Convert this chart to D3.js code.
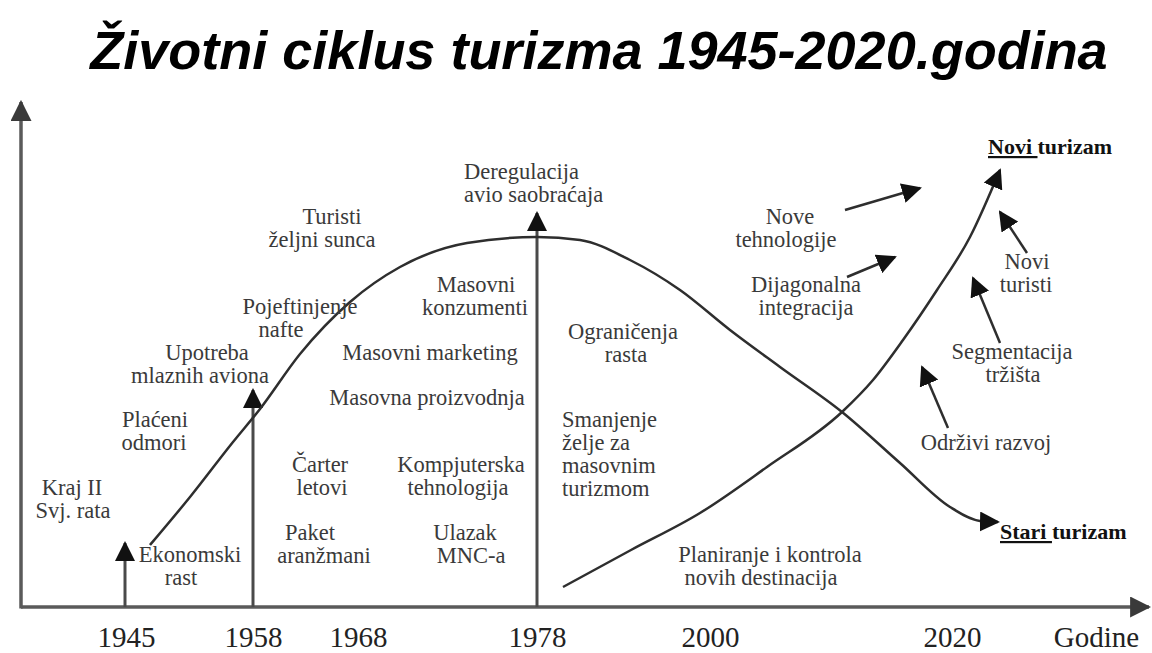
<!DOCTYPE html>
<html>
<head>
<meta charset="utf-8">
<script src="https://cdn.jsdelivr.net/npm/d3@7"></script>
<style>
  body { margin: 0; background: #fff; }
  svg text { font-family: "Liberation Serif", "Times New Roman", serif; }
</style>
</head>
<body>
<div id="chart"></div>
<script>
// Diagram data, in diagram units (x along the time axis, y = level of tourism)
var tickPos = [10.5, 23.2, 33.7, 51.6, 68.9, 93.1, 107.5];
var tickLabels = ["1945", "1958", "1968", "1978", "2000", "2020", "Godine"];

// events marked with vertical arrows on the time axis
var eventPos = [10.4, 23.2, 51.6];
var eventHeight = [6.4, 21.7, 39.4];

// old tourism (rise and fall) and new tourism (rise)
var oldTourism = [
  [12.9, 6.2], [16.9, 11.0], [21.2, 16.5], [23.9, 19.8], [27.9, 25.3],
  [32.9, 30.5], [37.9, 34.0], [44.6, 36.4], [51.6, 37.0], [55.9, 36.7],
  [60.9, 34.7], [65.9, 31.7], [70.9, 27.7], [75.9, 24.0], [82.1, 19.5],
  [87.9, 14.4], [92.9, 10.0], [95.9, 8.6], [97.7, 8.5]
];
var newTourism = [
  [54.2, 2.0], [61.0, 5.7], [67.9, 9.4], [74.6, 14.0], [82.1, 19.5],
  [85.2, 22.7], [88.2, 26.7], [91.6, 31.7], [94.9, 37.0], [97.9, 43.7]
];

// small arrows: [fromX, fromY, toX, toY]
var pointers = [
  [82.4, 39.7, 89.9, 41.9],
  [82.6, 33.0, 87.4, 35.0],
  [100.6, 35.4, 97.9, 39.5],
  [97.9, 26.4, 95.2, 32.9],
  [92.7, 17.9, 90.1, 24.0]
];

// annotations: [x of each line, y of first line, lines, anchor]
var notes = [
  [[5.1, 5.2], 11.2, ["Kraj II", "Svj. rata"], "middle"],
  [[13.4, 13.3], 18.0, ["Plaćeni", "odmori"], "middle"],
  [[18.6, 17.9], 24.7, ["Upotreba", "mlaznih aviona"], "middle"],
  [[27.9, 26.0], 29.3, ["Pojeftinjenje", "nafte"], "middle"],
  [[31.1, 30.1], 38.3, ["Turisti", "željni sunca"], "middle"],
  [[45.5, 45.4], 31.5, ["Masovni", "konzumenti"], "middle"],
  [[40.9], 24.7, ["Masovni marketing"], "middle"],
  [[40.6], 20.2, ["Masovna proizvodnja"], "middle"],
  [[29.9, 30.1], 13.5, ["Čarter", "letovi"], "middle"],
  [[44.0, 43.7], 13.5, ["Kompjuterska", "tehnologija"], "middle"],
  [[28.9, 30.3], 6.7, ["Paket", "aranžmani"], "middle"],
  [[44.4, 45.0], 6.7, ["Ulazak", "MNC-a"], "middle"],
  [[16.9, 16.0], 4.5, ["Ekonomski", "rast"], "middle"],
  [[44.3, 44.3], 42.8, ["Deregulacija", "avio saobraćaja"], "start"],
  [[60.2, 60.5], 26.8, ["Ograničenja", "rasta"], "middle"],
  [[54.1, 54.1, 54.1, 54.1], 18.0, ["Smanjenje", "želje za", "masovnim", "turizmom"], "start"],
  [[74.9, 74.0], 4.5, ["Planiranje i kontrola", "novih destinacija"], "middle"],
  [[76.9, 76.5], 38.3, ["Nove", "tehnologije"], "middle"],
  [[78.5, 78.5], 31.5, ["Dijagonalna", "integracija"], "middle"],
  [[100.6, 100.5], 33.8, ["Novi", "turisti"], "middle"],
  [[99.1, 99.2], 24.8, ["Segmentacija", "tržišta"], "middle"],
  [[96.5], 15.7, ["Održivi razvoj"], "middle"]
];
var lineStep = 2.3;

// end labels: [x, y, underlined word, rest]
var endLabels = [
  [96.7, 45.3, "Novi", "turizam"],
  [97.9, 6.8, "Stari", "turizam"]
];

var svgWidth = 1152;
var svgHeight = 653;

var svg = d3.select("#chart")
  .append("svg")
  .attr("width", svgWidth)
  .attr("height", svgHeight);

var x = d3.scaleLinear().domain([0, 113]).range([21, 1151]);
var y = d3.scaleLinear().domain([0, 50.7]).range([607, 100]);

// arrow heads
var defs = svg.append("defs");
function addHead(id, color, size) {
  defs.append("marker")
    .attr("id", id)
    .attr("viewBox", "0 0 10 10")
    .attr("refX", 9)
    .attr("refY", 5)
    .attr("markerUnits", "userSpaceOnUse")
    .attr("markerWidth", size)
    .attr("markerHeight", size)
    .attr("orient", "auto")
    .append("path")
    .attr("d", "M0,0L10,5L0,10Z")
    .attr("fill", color);
}
addHead("headAxis", "#3a3a3a", 21);
addHead("head", "#111", 20);

// title
svg.append("text")
  .attr("x", 599)
  .attr("y", 69)
  .attr("text-anchor", "middle")
  .style("font-family", "'Liberation Sans', Arial, sans-serif")
  .style("font-weight", "bold")
  .style("font-style", "italic")
  .style("font-size", "54px")
  .attr("fill", "#000")
  .text("Životni ciklus turizma 1945-2020.godina");

// axes lines
svg.append("line")
  .attr("x1", x(0)).attr("y1", y(0))
  .attr("x2", x(113) - 2).attr("y2", y(0))
  .attr("stroke", "#5a5a5a")
  .attr("stroke-width", 3.5)
  .attr("marker-end", "url(#headAxis)");

svg.append("line")
  .attr("x1", x(0)).attr("y1", y(0) + 1.5)
  .attr("x2", x(0)).attr("y2", y(50.7) + 2)
  .attr("stroke", "#5a5a5a")
  .attr("stroke-width", 3.5)
  .attr("marker-end", "url(#headAxis)");

// tick labels through a bottom axis
var bottomAxis = d3.axisBottom(x)
  .tickValues(tickPos)
  .tickFormat((d, i) => tickLabels[i])
  .tickSize(0)
  .tickPadding(19);

var xAxis = svg.append("g")
  .attr("transform", `translate(0, ${y(0)})`)
  .call(bottomAxis);
xAxis.select(".domain").remove();
xAxis.selectAll("text")
  .style("font-family", "'Liberation Serif', 'Times New Roman', serif")
  .style("font-size", "29px")
  .attr("fill", "#222");

// event arrows
svg.selectAll(".event")
  .data(eventPos)
  .enter()
  .append("line")
  .attr("class", "event")
  .attr("x1", d => x(d))
  .attr("y1", y(0))
  .attr("x2", d => x(d))
  .attr("y2", (d, i) => y(eventHeight[i]))
  .attr("stroke", "#4a4a4a")
  .attr("stroke-width", 3)
  .attr("marker-end", "url(#head)");

// curves
var line = d3.line()
  .x(d => x(d[0]))
  .y(d => y(d[1]))
  .curve(d3.curveMonotoneX);

svg.append("path")
  .datum(oldTourism)
  .attr("d", line)
  .attr("fill", "none")
  .attr("stroke", "#2e2e2e")
  .attr("stroke-width", 2.5)
  .attr("marker-end", "url(#head)");

svg.append("path")
  .datum(newTourism)
  .attr("d", line)
  .attr("fill", "none")
  .attr("stroke", "#2e2e2e")
  .attr("stroke-width", 2.5)
  .attr("marker-end", "url(#head)");

// small pointer arrows
svg.selectAll(".pointer")
  .data(pointers)
  .enter()
  .append("line")
  .attr("class", "pointer")
  .attr("x1", d => x(d[0]))
  .attr("y1", d => y(d[1]))
  .attr("x2", d => x(d[2]))
  .attr("y2", d => y(d[3]))
  .attr("stroke", "#2e2e2e")
  .attr("stroke-width", 2.5)
  .attr("marker-end", "url(#head)");

// annotations, one text per note with a tspan per line
var noteText = svg.selectAll(".note")
  .data(notes)
  .enter()
  .append("text")
  .attr("class", "note")
  .attr("text-anchor", d => d[3])
  .style("font-size", "22.5px")
  .attr("fill", "#3a3a3a");

noteText.selectAll("tspan")
  .data(d => d[2].map((t, i) => ({ t: t, x: d[0][i], y: d[1] - i * lineStep })))
  .enter()
  .append("tspan")
  .attr("x", d => x(d.x))
  .attr("y", d => y(d.y))
  .text(d => d.t);

// Novi / Stari turizam
var ends = svg.selectAll(".endLabel")
  .data(endLabels)
  .enter()
  .append("text")
  .attr("class", "endLabel")
  .attr("x", d => x(d[0]))
  .attr("y", d => y(d[1]))
  .style("font-size", "22px")
  .style("font-weight", "bold")
  .style("white-space", "pre")
  .attr("fill", "#111");

ends.append("tspan")
  .style("text-decoration", "underline")
  .text(d => d[2] + " ");
ends.append("tspan")
  .text(d => d[3]);
</script>
</body>
</html>
